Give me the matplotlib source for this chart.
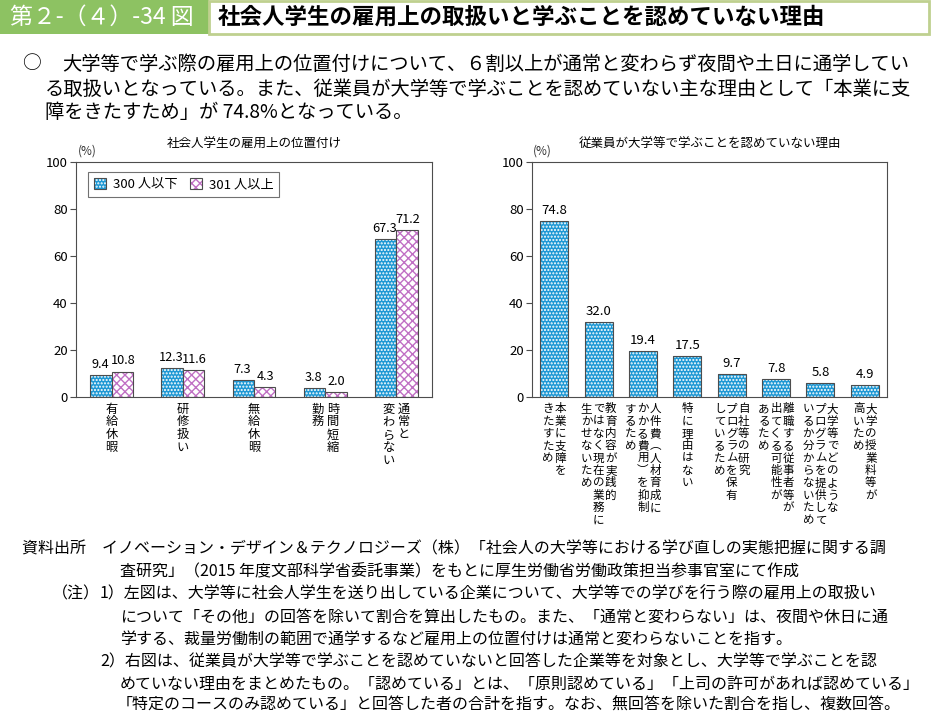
import matplotlib
matplotlib.use('Agg')
import matplotlib.pyplot as plt
from matplotlib.patches import Rectangle

plt.rcParams['font.family'] = ['Noto Sans CJK JP', 'DejaVu Sans']

# ---- data ----
position_cats = ['有給休暇', '研修扱い', '無給休暇', '時間短縮\n勤務', '通常と\n変わらない']
small_firms = [9.4, 12.3, 7.3, 3.8, 67.3]     # 300人以下
large_firms = [10.8, 11.6, 4.3, 2.0, 71.2]    # 301人以上
series_names = ['300 人以下', '301 人以上']

reason_cats = [
    '本業に支障を\nきたすため',
    '教育内容が実践的\nではなく現在の業務に\n生かせないため',
    '人件費︵人材育成に\nかかる費用︶を抑制\nするため',
    '特に理由はない',
    '自社等の研究\nプログラムを保有\nしているため',
    '離職する従事者等が\n出てくる可能性が\nあるため',
    '大学等でどのような\nプログラムを提供して\nいるか分からないため',
    '大学の授業料等が\n高いため',
]
reason_vals = [74.8, 32.0, 19.4, 17.5, 9.7, 7.8, 5.8, 4.9]

yticks = [0, 20, 40, 60, 80, 100]

BLUE = '#1e98d4'
PINK = '#c070c4'
EDGE = '#4d4d4d'

W, H = 933, 715
fig = plt.figure(figsize=(W / 100, H / 100), dpi=100)


def fx(px):
    return px / W


def fy(py):
    return 1 - py / H


# ---- header ----
fig.patches.append(Rectangle((0, fy(34)), fx(209), 34 / H, transform=fig.transFigure,
                             facecolor='#8dc262', edgecolor='none'))
fig.patches.append(Rectangle((fx(209), fy(34)), fx(720), 33 / H, transform=fig.transFigure,
                             facecolor='white', edgecolor='#bfd08f', lw=2))
fig.text(fx(10), fy(17), '第２-（４）-34 図', color='white', fontsize=16.5, va='center')
fig.text(fx(218), fy(17), '社会人学生の雇用上の取扱いと学ぶことを認めていない理由',
         fontsize=16.2, fontweight='bold', va='center')

fig.text(fx(22), fy(64), '○', fontsize=13.5, va='center')
fig.text(fx(62), fy(64), '大学等で学ぶ際の雇用上の位置付けについて、６割以上が通常と変わらず夜間や土日に通学してい',
         fontsize=13.9, va='center')
fig.text(fx(45), fy(89), 'る取扱いとなっている。また、従業員が大学等で学ぶことを認めていない主な理由として「本業に支',
         fontsize=13.9, va='center')
fig.text(fx(45), fy(113), '障をきたすため」が 74.8%となっている。', fontsize=13.9, va='center')


def style_axis(ax):
    ax.set_ylim(0, 100)
    ax.set_yticks(yticks)
    for s in ax.spines.values():
        s.set_color(EDGE)
        s.set_linewidth(0.8)
    ax.tick_params(axis='y', direction='out', length=4, width=0.8, color=EDGE,
                   labelsize=9.5, pad=2)
    ax.tick_params(axis='x', length=0, labelbottom=False)


def draw_bars(ax, x, vals, width, face, hatch, hcolor):
    b1 = ax.bar(x, vals, width, color=face, edgecolor=hcolor, hatch=hatch, linewidth=0)
    b2 = ax.bar(x, vals, width, fill=False, edgecolor=EDGE, linewidth=0.8)
    return b1, b2


def vlabels(ax, xs, labels, fs, char_step, col_step, top_pad):
    # vertical japanese text, columns read right to left
    trans = ax.get_xaxis_transform()
    for x, lab in zip(xs, labels):
        cols = lab.split('\n')
        n = len(cols)
        for i, col in enumerate(cols):
            dx = ((n - 1) / 2 - i) * col_step
            for j, ch in enumerate(col):
                ax.annotate(ch, xy=(x, 0), xycoords=trans,
                            xytext=(dx, -top_pad - (j + 0.5) * char_step),
                            textcoords='offset points', ha='center', va='center',
                            fontsize=fs, annotation_clip=False)


# ---- left chart ----
axL = fig.add_axes([fx(76), fy(397), 356 / W, 235 / H])
xl = list(range(len(position_cats)))
bw = 0.30
xs_small = [x - bw / 2 for x in xl]
xs_large = [x + bw / 2 for x in xl]
h1 = draw_bars(axL, xs_small, small_firms, bw, BLUE, '.....', 'white')
h2 = draw_bars(axL, xs_large, large_firms, bw, 'white', 'xxxx', PINK)
axL.set_xlim(-0.5, len(position_cats) - 0.5)
style_axis(axL)
for x, v in zip(xs_small, small_firms):
    axL.annotate(f'{v:.1f}', (x, v), xytext=(-0.5, 3), textcoords='offset points',
                 ha='center', va='bottom', fontsize=9.2)
for x, v in zip(xs_large, large_firms):
    axL.annotate(f'{v:.1f}', (x, v), xytext=(0.5, 3), textcoords='offset points',
                 ha='center', va='bottom', fontsize=9.2)
handles = [(h1[0][0], h1[1][0]), (h2[0][0], h2[1][0])]
leg = axL.legend(handles, series_names,
                 loc='upper left', bbox_to_anchor=(0.034, 0.957), borderaxespad=0,
                 ncol=2, fontsize=9.5, fancybox=False, edgecolor=EDGE,
                 handlelength=0.9, handleheight=0.9, handletextpad=0.5,
                 columnspacing=1.0, borderpad=0.45)
leg.get_frame().set_linewidth(0.8)
vlabels(axL, xl, position_cats, 8.8, 9.3, 11, 4)
fig.text(fx(254), fy(144), '社会人学生の雇用上の位置付け', fontsize=9, ha='center', va='center')
fig.text(fx(87), fy(151), '(%)', fontsize=8.5, ha='center', va='center', color='#333333')

# ---- right chart ----
axR = fig.add_axes([fx(532), fy(397), 355 / W, 235 / H])
xr = list(range(len(reason_cats)))
draw_bars(axR, xr, reason_vals, 0.63, BLUE, '.....', 'white')
axR.set_xlim(-0.5, len(reason_cats) - 0.5)
style_axis(axR)
for x, v in zip(xr, reason_vals):
    axR.annotate(f'{v:.1f}', (x, v), xytext=(0, 3), textcoords='offset points',
                 ha='center', va='bottom', fontsize=9.5)
vlabels(axR, xr, reason_cats, 8.3, 8.9, 8.7, 4)
fig.text(fx(710), fy(144), '従業員が大学等で学ぶことを認めていない理由', fontsize=9, ha='center', va='center')
fig.text(fx(542), fy(151), '(%)', fontsize=8.5, ha='center', va='center', color='#333333')

# ---- notes ----
notes = [
    (22, 549, '資料出所　イノベーション・デザイン＆テクノロジーズ（株）「社会人の大学等における学び直しの実態把握に関する調'),
    (120, 572, '査研究」（2015 年度文部科学省委託事業）をもとに厚生労働省労働政策担当参事官室にて作成'),
    (52, 594, '（注）'),
    (100, 594, '1）左図は、大学等に社会人学生を送り出している企業について、大学等での学びを行う際の雇用上の取扱い'),
    (120, 617, 'について「その他」の回答を除いて割合を算出したもの。また、「通常と変わらない」は、夜間や休日に通'),
    (120, 640, '学する、裁量労働制の範囲で通学するなど雇用上の位置付けは通常と変わらないことを指す。'),
    (100, 662, '2）右図は、従業員が大学等で学ぶことを認めていないと回答した企業等を対象とし、大学等で学ぶことを認'),
    (120, 684, 'めていない理由をまとめたもの。「認めている」とは、「原則認めている」「上司の許可があれば認めている」'),
    (117, 705, '「特定のコースのみ認めている」と回答した者の合計を指す。なお、無回答を除いた割合を指し、複数回答。'),
]
for x, y, t in notes:
    fig.text(fx(x), fy(y), t, fontsize=11.5, va='center')

fig.savefig('out.png', dpi=100)
